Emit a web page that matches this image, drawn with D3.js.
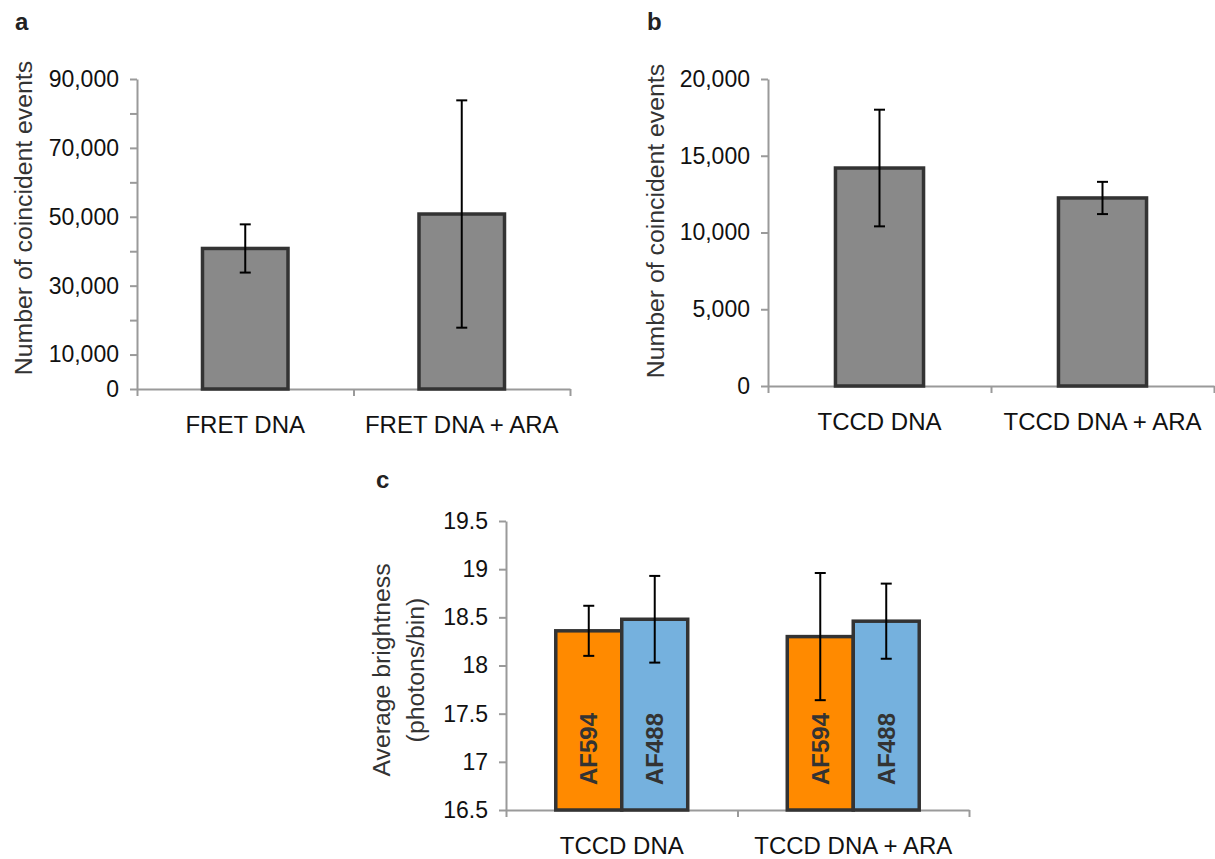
<!DOCTYPE html>
<html>
<head>
<meta charset="utf-8">
<script src="https://cdn.jsdelivr.net/npm/d3@7"></script>
<style>
  body { margin: 0; background: #fff; }
  svg { font-family: "Liberation Sans", Arial, sans-serif; }
</style>
</head>
<body>
<section></section>
<script>
// panel a
const catsA = ["FRET DNA", "FRET DNA + ARA"];
const valsA = [40800, 50800];
const errsA = [7000, 33000];
const ticksA = [0, 10000, 20000, 30000, 40000, 50000, 60000, 70000, 80000, 90000];
const labelledA = [0, 10000, 30000, 50000, 70000, 90000];

// panel b
const catsB = ["TCCD DNA", "TCCD DNA + ARA"];
const valsB = [14200, 12250];
const errsB = [3800, 1050];
const ticksB = [0, 5000, 10000, 15000, 20000];

// panel c
const catsC = ["TCCD DNA", "TCCD DNA + ARA"];
const seriesC = ["AF594", "AF488"];
const af594Vals = [18.36, 18.3];
const af594Errs = [0.26, 0.66];
const af488Vals = [18.48, 18.46];
const af488Errs = [0.45, 0.39];
const ticksC = [16.5, 17, 17.5, 18, 18.5, 19, 19.5];

const svg = d3
  .select("section")
  .append("svg")
  .attr("width", 1215)
  .attr("height", 859);

const axisColor = "#9a9a9a";
const barStroke = "#333";

function drawPanel(p) {
  const g = svg.append("g");
  const x = d3.scaleBand().domain(p.cats).range([p.x0, p.x1]).padding(0);
  const y = d3.scaleLinear().domain(p.domain).range([p.y0, p.y1]);

  // y axis
  const yAxis = d3
    .axisLeft(y)
    .tickValues(p.ticks)
    .tickSize(7)
    .tickSizeOuter(0)
    .tickPadding(11)
    .tickFormat(p.tickFormat);
  const ya = g.append("g").attr("transform", `translate(${p.x0},0)`).call(yAxis);
  ya.select(".domain").attr("stroke", axisColor).attr("stroke-width", 2);
  ya.selectAll(".tick line").attr("stroke", axisColor).attr("stroke-width", 2);
  ya.selectAll(".tick text")
    .attr("font-size", 23)
    .attr("fill", "#111")
    .attr("font-family", "Liberation Sans, Arial, sans-serif");

  // x axis: ticks on the category boundaries
  const xb = d3.scaleLinear().domain([0, p.cats.length]).range([p.x0, p.x1]);
  const xa = g
    .append("g")
    .attr("transform", `translate(0,${p.y0})`)
    .call(d3.axisBottom(xb).ticks(p.cats.length).tickSize(7).tickSizeOuter(0).tickFormat(""));
  xa.select(".domain").attr("stroke", axisColor).attr("stroke-width", 2);
  xa.selectAll(".tick line").attr("stroke", axisColor).attr("stroke-width", 2);

  // bars
  const groupW = x.bandwidth() * p.frac;
  const inner = d3
    .scaleBand()
    .domain(p.series.map((s) => s.name))
    .range([0, groupW])
    .padding(0);

  p.series.forEach((s) => {
    const bars = g
      .append("g")
      .selectAll("g")
      .data(p.cats.map((c, i) => ({ c: c, v: s.vals[i], e: s.errs[i] })))
      .enter()
      .append("g")
      .attr(
        "transform",
        (d) => `translate(${x(d.c) + (x.bandwidth() - groupW) / 2 + inner(s.name)},0)`
      );
    bars
      .append("rect")
      .attr("x", 0)
      .attr("width", inner.bandwidth())
      .attr("y", (d) => y(d.v))
      .attr("height", (d) => y(p.domain[0]) - y(d.v))
      .attr("fill", s.color)
      .attr("stroke", barStroke)
      .attr("stroke-width", 3.5);
    if (p.barLabels) {
      bars
        .append("text")
        .attr("transform", `translate(${inner.bandwidth() / 2},${p.y0 - 25}) rotate(-90)`)
        .attr("dy", "0.36em")
        .attr("font-size", 24)
        .attr("font-weight", "bold")
        .attr("fill", "#333")
        .text(s.name);
    }
    // error bars
    const cx = inner.bandwidth() / 2;
    bars
      .append("line")
      .attr("x1", cx)
      .attr("x2", cx)
      .attr("y1", (d) => y(d.v + d.e))
      .attr("y2", (d) => y(d.v - d.e))
      .attr("stroke", "#000")
      .attr("stroke-width", 2);
    [1, -1].forEach((k) => {
      bars
        .append("line")
        .attr("x1", cx - 5.5)
        .attr("x2", cx + 5.5)
        .attr("y1", (d) => y(d.v + k * d.e))
        .attr("y2", (d) => y(d.v + k * d.e))
        .attr("stroke", "#000")
        .attr("stroke-width", 2);
    });
  });

  // category labels
  g.selectAll(".cat")
    .data(p.cats)
    .enter()
    .append("text")
    .attr("x", (d) => x(d) + x.bandwidth() / 2)
    .attr("y", p.y0 + 27)
    .attr("dy", "0.71em")
    .attr("text-anchor", "middle")
    .attr("font-size", 24)
    .attr("fill", "#111")
    .text((d) => d);

  // y title
  p.title.forEach((t, i) => {
    g.append("text")
      .attr("transform", `translate(${p.titleX[i]},${p.titleY}) rotate(-90)`)
      .attr("text-anchor", "middle")
      .attr("font-size", 24.8)
      .attr("fill", "#333")
      .text(t);
  });

  // panel letter
  g.append("text")
    .attr("x", p.letterX)
    .attr("y", p.letterY)
    .attr("font-size", 24)
    .attr("font-weight", "bold")
    .attr("fill", "#222")
    .text(p.letter);
}

drawPanel({
  cats: catsA,
  series: [{ name: "a", vals: valsA, errs: errsA, color: "#898989" }],
  x0: 137, x1: 570, y0: 389, y1: 79,
  domain: [0, 90000],
  ticks: ticksA,
  tickFormat: (d) => (labelledA.includes(d) ? d3.format(",")(d) : ""),
  frac: 0.395,
  title: ["Number of coincident events"],
  titleX: [32], titleY: 218,
  letter: "a", letterX: 15, letterY: 30,
});

drawPanel({
  cats: catsB,
  series: [{ name: "b", vals: valsB, errs: errsB, color: "#898989" }],
  x0: 768, x1: 1214, y0: 386, y1: 79,
  domain: [0, 20000],
  ticks: ticksB,
  tickFormat: d3.format(","),
  frac: 0.395,
  title: ["Number of coincident events"],
  titleX: [664], titleY: 221,
  letter: "b", letterX: 647, letterY: 30,
});

drawPanel({
  cats: catsC,
  series: [
    { name: seriesC[0], vals: af594Vals, errs: af594Errs, color: "#ff8a00" },
    { name: seriesC[1], vals: af488Vals, errs: af488Errs, color: "#75b1de" },
  ],
  x0: 506, x1: 969, y0: 810, y1: 521,
  domain: [16.5, 19.5],
  ticks: ticksC,
  tickFormat: (d) => d3.format("")(d),
  frac: 0.57,
  barLabels: true,
  title: ["Average brightness", "(photons/bin)"],
  titleX: [390, 424], titleY: 670,
  letter: "c", letterX: 376, letterY: 488,
});
</script>
</body>
</html>
